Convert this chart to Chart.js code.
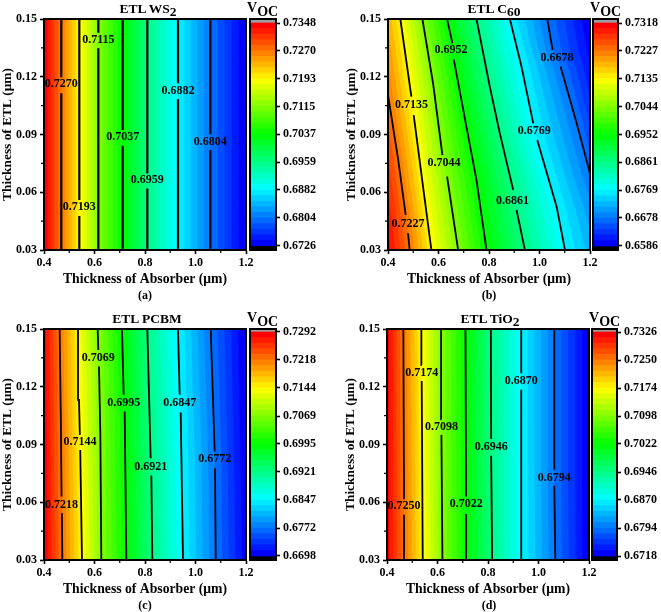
<!DOCTYPE html>
<html><head><meta charset="utf-8">
<script src="https://cdn.jsdelivr.net/npm/chart.js@4/dist/chart.umd.min.js"></script>
<style>
html,body{margin:0;padding:0;background:#fff;width:661px;height:612px;overflow:hidden}
#wrap{position:relative;width:661px;height:612px;font-family:"Liberation Serif",serif;font-weight:bold;color:#000;filter:blur(0.35px)}
canvas{position:absolute;display:block}
.t{position:absolute;white-space:nowrap;transform:translateX(-50%);line-height:1}
.t sub{font-size:inherit;vertical-align:-3px;line-height:0}
.v{position:absolute;white-space:nowrap;font-size:14px;line-height:1}
.v sub{font-size:inherit;vertical-align:-4px;line-height:0}
</style></head><body><div id="wrap"></div>
<script>
const absorberTicks=[0.4,0.6,0.8,1.0,1.2];
const absorberMinor=[0.5,0.7,0.9,1.1];
const etlTicks=[0.03,0.06,0.09,0.12,0.15];
const etlMinor=[0.045,0.075,0.105,0.135];

const levelsA=[0.7348,0.7270,0.7193,0.7115,0.7037,0.6959,0.6882,0.6804,0.6726];
const levelsB=[0.7318,0.7227,0.7135,0.7044,0.6952,0.6861,0.6769,0.6678,0.6586];
const levelsC=[0.7292,0.7218,0.7144,0.7069,0.6995,0.6921,0.6847,0.6772,0.6698];
const levelsD=[0.7326,0.7250,0.7174,0.7098,0.7022,0.6946,0.6870,0.6794,0.6718];

const contoursA=[
 [[.4686,.03],[.4686,.1114],null,[.4686,.1197],[.4686,.15]],
 [[.5399,.03],[.5399,.0477],null,[.5399,.056],[.5399,.15]],
 [[.6152,.03],[.6152,.1348],null,[.6152,.1429],[.6152,.15]],
 [[.7116,.03],[.7116,.0842],null,[.7116,.0923],[.7116,.15]],
 [[.8092,.03],[.8092,.062],null,[.8092,.0698],[.8092,.15]],
 [[.9307,.03],[.9307,.1084],null,[.9307,.1166],[.9307,.15]],
 [[1.0587,.03],[1.0587,.082],null,[1.0587,.0901],[1.0587,.15]]
];
const contoursB=[
 [[.486,.03],[.4793,.0387],null,[.4701,.0482],[.4397,.0776],[.4,.1105],[.36,.15]],
 [[.5719,.03],[.5388,.0629],[.5018,.1001],null,[.4926,.1097],[.4489,.15]],
 [[.6777,.03],[.634,.0681],null,[.6155,.0793],[.5785,.1166],[.5362,.15]],
 [[.7901,.03],[.7504,.0664],[.7081,.0958],[.6605,.129],null,[.6552,.1374],[.634,.15]],
 [[.9422,.03],[.9091,.0508],null,[.8959,.0612],[.843,.0906],[.8033,.1148],[.7504,.15]],
 [[1.1008,.03],[1.0678,.0525],[.9911,.0871],null,[.9752,.0958],[.9289,.1252],[.8826,.15]],
 [[1.3058,.03],[1.2,.0698],[1.1471,.0958],[1.0836,.1252],null,[1.0519,.1339],[1.0307,.15]]
];
const contoursC=[
 [[.4726,.03],[.471,.0544],null,[.4695,.063],[.467,.1],[.462,.15]],
 [[.5505,.03],[.5435,.0872],null,[.542,.095],[.5386,.1132],[.5347,.15]],
 [[.627,.03],[.6231,.0959],[.6178,.1305],null,[.6152,.1391],[.6125,.15]],
 [[.7261,.03],[.7195,.1071],null,[.7155,.1158],[.7089,.15]],
 [[.829,.03],[.8251,.0739],null,[.8224,.0829],[.8092,.15]],
 [[.9505,.03],[.9413,.1066],null,[.9373,.1158],[.9307,.15]],
 [[1.0799,.03],[1.0772,.0777],null,[1.0759,.0864],[1.0601,.15]]
];
const contoursD=[
 [[.4701,.03],[.4674,.0535],null,[.4674,.0616],[.4648,.15]],
 [[.5415,.03],[.5375,.123],null,[.5375,.1313],[.5362,.15]],
 [[.6195,.03],[.6155,.095],null,[.6155,.1031],[.6142,.15]],
 [[.7147,.03],[.7134,.0539],null,[.7134,.063],[.7107,.15]],
 [[.8165,.03],[.8125,.0841],null,[.8125,.0928],[.8112,.15]],
 [[.9342,.03],[.9316,.1184],null,[.9316,.127],[.9316,.15]],
 [[1.0665,.03],[1.0625,.0686],null,[1.0625,.0769],[1.0625,.15]]
];
const edgesA=[[[.40,.03],[.40,.15]],[[1.2,.03],[1.2,.15]]];
const edgesB=[[[.39,.03],[.28,.15]],[[1.36,.03],[1.2,.15]]];
const edgesC=[[[.40,.03],[.395,.15]],[[1.21,.03],[1.195,.15]]];
const edgesD=[[[.395,.03],[.395,.15]],[[1.2,.03],[1.2,.15]]];

const labelPosA=[[.4686,.1161],[.5399,.0522],[.6152,.1391],[.7116,.0887],[.8092,.0664],[.9307,.1129],[1.0587,.0863]];
const labelPosB=[[.4793,.0435],[.4926,.1053],[.6221,.075],[.6499,.1337],[.8932,.0556],[.9792,.0917],[1.0691,.1297]];
const labelPosC=[[.4695,.0587],[.5426,.0912],[.6152,.1351],[.7155,.1116],[.8224,.0786],[.9373,.1114],[1.0759,.0824]];
const labelPosD=[[.4674,.058],[.5375,.1273],[.6155,.0992],[.7134,.0589],[.8125,.0888],[.9316,.123],[1.0625,.0729]];

const panels=[
 {title:'ETL WS<sub>2</sub>',cap:'(a)',levels:levelsA,contours:contoursA,edges:edgesA,labels:labelPosA,lw:2.2,L:44,R:246,T:19,cbL:250,cbR:276,tTop:23,tBot:245.7,titleX:148,capX:145},
 {title:'ETL C<sub>60</sub>',cap:'(b)',levels:levelsB,contours:contoursB,edges:edgesB,labels:labelPosB,lw:1.8,L:388,R:590,T:19,cbL:593,cbR:618,tTop:23,tBot:246,titleX:494,capX:489},
 {title:'ETL PCBM',cap:'(c)',levels:levelsC,contours:contoursC,edges:edgesC,labels:labelPosC,lw:1.8,L:44,R:246,T:329,cbL:250,cbR:276,tTop:332,tBot:556,titleX:147,capX:145},
 {title:'ETL TiO<sub>2</sub>',cap:'(d)',levels:levelsD,contours:contoursD,edges:edgesD,labels:labelPosD,lw:1.8,L:387,R:589,T:329,cbL:592,cbR:617,tTop:332,tBot:556,titleX:490,capX:489}
];

const FONT='"Liberation Serif", serif';
const wrap=document.getElementById('wrap');
const STOPS=[[0,0,255],[0,255,255],[0,255,0],[255,255,0],[255,0,0]];
function rainbow(i){
  const t=i/39*4, k=Math.min(3,Math.floor(t)), f=t-k;
  const c=STOPS[k].map((v,m)=>Math.round(v+(STOPS[k+1][m]-v)*f));
  return `rgb(${c[0]},${c[1]},${c[2]})`;
}
function xAt(line,y){
  const p=line.filter(Boolean);
  let i=0; while(i<p.length-2 && y>p[i+1][1]) i++;
  const a=p[i],b=p[i+1];
  return a[0]+(b[0]-a[0])*(y-a[1])/(b[1]-a[1]);
}
function addCanvas(l,t,w,h){
  const c=document.createElement('canvas');
  c.width=w;c.height=h;c.style.left=l+'px';c.style.top=t+'px';c.style.width=w+'px';c.style.height=h+'px';
  wrap.appendChild(c);return c;
}
function addText(cls,html,x,y,size){
  const d=document.createElement('div');d.className=cls;d.innerHTML=html;
  d.style.left=x+'px';d.style.top=y+'px';if(size)d.style.fontSize=size+'px';wrap.appendChild(d);
}
const bandPlugin={id:'bands',beforeDatasetsDraw(ch,a,o){
  const {ctx,chartArea:ca,scales:{x,y}}=ch, lines=[o.edges[0],...o.contours,o.edges[1]];
  const ys=[];for(let i=0;i<=30;i++)ys.push(.03+.12*i/30);
  ctx.save();ctx.beginPath();ctx.rect(ca.left,ca.top,ca.right-ca.left,ca.bottom-ca.top);ctx.clip();
  ctx.fillStyle=rainbow(39);ctx.fillRect(ca.left,ca.top,ca.right-ca.left,ca.bottom-ca.top);
  for(let k=0;k<8;k++)for(let j=0;j<5;j++){
    const t=j/5;ctx.beginPath();
    ys.forEach((v,i)=>{
      const xv=xAt(lines[k],v)*(1-t)+xAt(lines[k+1],v)*t;
      const px=x.getPixelForValue(xv),py=y.getPixelForValue(v);
      i?ctx.lineTo(px,py):ctx.moveTo(px,py);
    });
    ctx.lineTo(ca.right+50,ca.top-5);ctx.lineTo(ca.right+50,ca.bottom+5);ctx.closePath();
    ctx.fillStyle=rainbow(39-(k*5+j));ctx.fill();
  }
  ctx.restore();
}};
const overPlugin={id:'over',afterDatasetsDraw(ch,a,o){
  const {ctx,scales:{x,y}}=ch;
  ctx.save();ctx.font='bold 12px '+FONT;ctx.fillStyle='#000';ctx.textAlign='center';ctx.textBaseline='middle';
  o.labels.forEach((p,i)=>ctx.fillText(o.levels[i+1].toFixed(4),x.getPixelForValue(p[0]),y.getPixelForValue(p[1])));
  ctx.restore();
}};
const framePlugin={id:'frame',afterDraw(ch,a,o){
  const {ctx,chartArea:c,scales}=ch;ctx.save();ctx.strokeStyle='#000';ctx.lineWidth=2;
  ctx.strokeRect(c.left,c.top,c.right-c.left,c.bottom-c.top);
  if(o.minorX){
    ctx.lineWidth=1.2;ctx.beginPath();
    o.minorX.forEach(v=>{const p=scales.x.getPixelForValue(v);ctx.moveTo(p,c.bottom);ctx.lineTo(p,c.bottom+3);});
    o.minorY.forEach(v=>{const p=scales.y.getPixelForValue(v);ctx.moveTo(c.left,p);ctx.lineTo(c.left-3,p);});
    ctx.stroke();
  }
  ctx.restore();
}};
function axisCommon(ticksArr,dec){
  return {
    type:'linear',
    afterBuildTicks(s){s.ticks=ticksArr.map(v=>({value:v}));},
    grid:{drawOnChartArea:false,drawTicks:true,tickLength:4,tickWidth:1.6,tickColor:'#000'},
    border:{display:true,color:'#000',width:2},
    ticks:{color:'#000',font:{family:FONT,weight:'bold',size:12},autoSkip:false,maxRotation:0,minRotation:0,callback:v=>Number(v).toFixed(dec)}
  };
}
panels.forEach(p=>{
  const W=p.R-p.L, H=231;
  const c=addCanvas(p.L-44,p.T-19,W+44+16,300);
  const datasets=p.contours.map((line,i)=>({
    label:p.levels[i+1].toFixed(4),
    data:line.map(q=>q?{x:q[0],y:q[1]}:{x:NaN,y:NaN}),
    showLine:true,spanGaps:false,pointRadius:0,borderColor:'#000',borderWidth:p.lw,tension:0,fill:false
  }));
  const xs=axisCommon(absorberTicks,1);
  Object.assign(xs,{min:.4,max:1.2,afterFit(s){s.height=50;},
    title:{display:true,text:'Thickness of Absorber (μm)',color:'#000',font:{family:FONT,weight:'bold',size:13.7},padding:{top:0,bottom:12}}});
  xs.ticks.padding=2;
  const ys=axisCommon(etlTicks,2);
  Object.assign(ys,{min:.03,max:.15,afterFit(s){s.width=44;},
    title:{display:true,text:'Thickness of ETL (μm)',color:'#000',font:{family:FONT,weight:'bold',size:13.4},padding:{top:0,bottom:0}}});
  ys.ticks.padding=3;
  new Chart(c,{type:'scatter',data:{datasets},plugins:[bandPlugin,overPlugin,framePlugin],options:{
    responsive:false,animation:false,devicePixelRatio:1,
    layout:{autoPadding:false,padding:{top:19,right:16,left:0,bottom:0}},
    scales:{x:xs,y:ys},
    plugins:{legend:{display:false},tooltip:{enabled:false},frame:{minorX:absorberMinor,minorY:etlMinor},
      bands:{edges:p.edges,contours:p.contours},over:{labels:p.labels,levels:p.levels}}
  }});
  const cbW=p.cbR-p.cbL, cv=addCanvas(p.cbL-4,p.T-19,4+cbW+44,H+19+12);
  const hi=p.levels[0],lo=p.levels[8],per=(hi-lo)/(p.tBot-p.tTop);
  const yMax=hi+(p.tTop-p.T)*per,yMin=lo-(p.T+H-p.tBot)*per;
  const steps=[];
  for(let i=0;i<40;i++){steps.push({label:'s'+i,data:[[lo+(hi-lo)*i/40,lo+(hi-lo)*(i+1)/40]],backgroundColor:rainbow(i),borderWidth:0,grouped:false,barPercentage:1,categoryPercentage:1});}
  steps.push({label:'over',data:[[hi,yMax]],backgroundColor:'#9c9c9c',borderWidth:0,grouped:false,barPercentage:1,categoryPercentage:1});
  steps.push({label:'under',data:[[yMin,lo]],backgroundColor:'#000',borderWidth:0,grouped:false,barPercentage:1,categoryPercentage:1});
  const cy=axisCommon(p.levels,4);
  Object.assign(cy,{position:'right',min:yMin,max:yMax,afterFit(s){s.width=44;}});
  cy.ticks.padding=3;
  new Chart(cv,{type:'bar',data:{labels:['VOC'],datasets:steps},plugins:[framePlugin],options:{
    responsive:false,animation:false,devicePixelRatio:1,
    layout:{autoPadding:false,padding:{top:19,left:4,right:0,bottom:12}},
    scales:{x:{display:false,offset:true,grid:{display:false}},y:cy},
    plugins:{legend:{display:false},tooltip:{enabled:false}}
  }});
  addText('t',p.title,p.titleX,p.T-17,13.5);
  addText('v','V<sub>OC</sub>',p.cbL-3,p.T-18);
  addText('t',p.cap,p.capX,p.T+270,12);
});
</script></body></html>
